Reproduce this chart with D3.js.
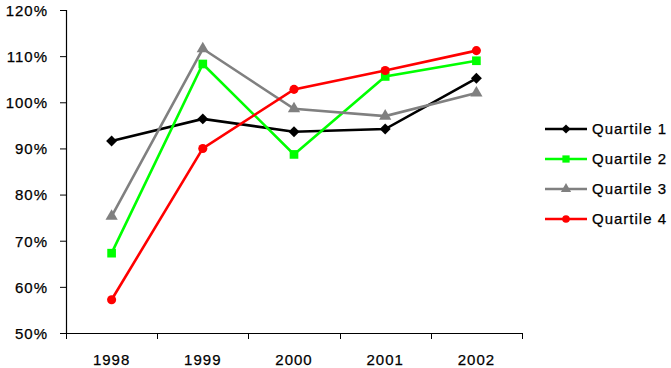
<!DOCTYPE html>
<html>
<head>
<meta charset="utf-8">
<script src="https://cdn.jsdelivr.net/npm/d3@7"></script>
<style>
  body { margin: 0; background: #fff; }
  text { font-family: "Liberation Sans", Arial, sans-serif; font-size: 15px; letter-spacing: 1px; fill: #000; stroke: #000; stroke-width: 0.25px; }
</style>
</head>
<body>
<div id="chart"></div>
<script>
// data (percent)
const years = ["1998", "1999", "2000", "2001", "2002"];
const q1 = [91.6, 96.4, 93.6, 94.2, 105.2];
const q2 = [67.3, 108.3, 88.7, 105.6, 109.0];
const q3 = [75.3, 111.6, 98.6, 97.0, 102.0];
const q4 = [57.2, 90.0, 102.8, 106.9, 111.2];
const seriesNames = ["Quartile 1", "Quartile 2", "Quartile 3", "Quartile 4"];
const yTicks = [50, 60, 70, 80, 90, 100, 110, 120];

// diamond = square turned 45 degrees
const series = [
  { name: seriesNames[0], values: q1, color: "#000000", shape: d3.symbolSquare, size: 60, rot: 45 },
  { name: seriesNames[1], values: q2, color: "#00ff00", shape: d3.symbolSquare, size: 75, rot: 0 },
  { name: seriesNames[2], values: q3, color: "#808080", shape: d3.symbolTriangle, size: 65, rot: 0 },
  { name: seriesNames[3], values: q4, color: "#ff0000", shape: d3.symbolCircle, size: 65, rot: 0 }
];

const width = 671, height = 368;
const plotLeft = 66, plotRight = 522, plotTop = 10, plotBottom = 333;

const svg = d3.select("#chart").append("svg")
  .attr("width", width)
  .attr("height", height);

const x = d3.scaleBand().domain(years).range([plotLeft, plotRight]);
const y = d3.scaleLinear().domain([50, 120]).range([plotBottom, plotTop]);

// y axis
const yAxis = svg.append("g")
  .attr("transform", `translate(${plotLeft},0)`)
  .call(d3.axisLeft(y).tickValues(yTicks).tickFormat(d => d + "%").tickSize(6).tickPadding(12));
yAxis.select(".domain").attr("stroke", "#000").attr("stroke-width", 1.2);
yAxis.selectAll(".tick line").attr("stroke", "#000");
yAxis.selectAll("text").attr("font-size", null).attr("font-family", null).attr("dy", "0.36em");

// x axis, ticks sit on category boundaries
const xAxis = svg.append("g")
  .attr("transform", `translate(0,${plotBottom})`)
  .call(d3.axisBottom(x).tickSize(0).tickPadding(21));
xAxis.select(".domain").attr("stroke", "#000").attr("stroke-width", 1.2);
xAxis.selectAll("text").attr("font-size", null).attr("font-family", null);
const bounds = years.map(d => x(d)).concat([plotRight]);
xAxis.selectAll(".bound").data(bounds).join("line")
  .attr("class", "bound")
  .attr("x1", d => Math.round(d) + 0.5).attr("x2", d => Math.round(d) + 0.5)
  .attr("y1", 0).attr("y2", 6)
  .attr("stroke", "#000");

const line = d3.line()
  .x((d, i) => x(years[i]) + x.bandwidth() / 2)
  .y(d => y(d));

series.forEach(s => {
  const g = svg.append("g");
  g.append("path")
    .attr("d", line(s.values))
    .attr("fill", "none")
    .attr("stroke", s.color)
    .attr("stroke-width", 2.6);
  g.selectAll("path.mark").data(s.values).join("path")
    .attr("class", "mark")
    .attr("transform", (d, i) => `translate(${x(years[i]) + x.bandwidth() / 2},${y(d)}) rotate(${s.rot})`)
    .attr("d", d3.symbol().type(s.shape).size(s.size))
    .attr("fill", s.color);
});

// legend
const legendY = d3.scalePoint().domain(seriesNames).range([129, 219]);
const legend = svg.append("g");
series.forEach(s => {
  const row = legend.append("g").attr("transform", `translate(0,${legendY(s.name)})`);
  row.append("line")
    .attr("x1", 545).attr("x2", 587)
    .attr("stroke", s.color).attr("stroke-width", 2.6);
  row.append("path")
    .attr("transform", `translate(566,0) rotate(${s.rot})`)
    .attr("d", d3.symbol().type(s.shape).size(s.size * 0.7))
    .attr("fill", s.color);
  row.append("text")
    .attr("x", 592).attr("dy", "0.36em")
    .text(s.name);
});
</script>
</body>
</html>
